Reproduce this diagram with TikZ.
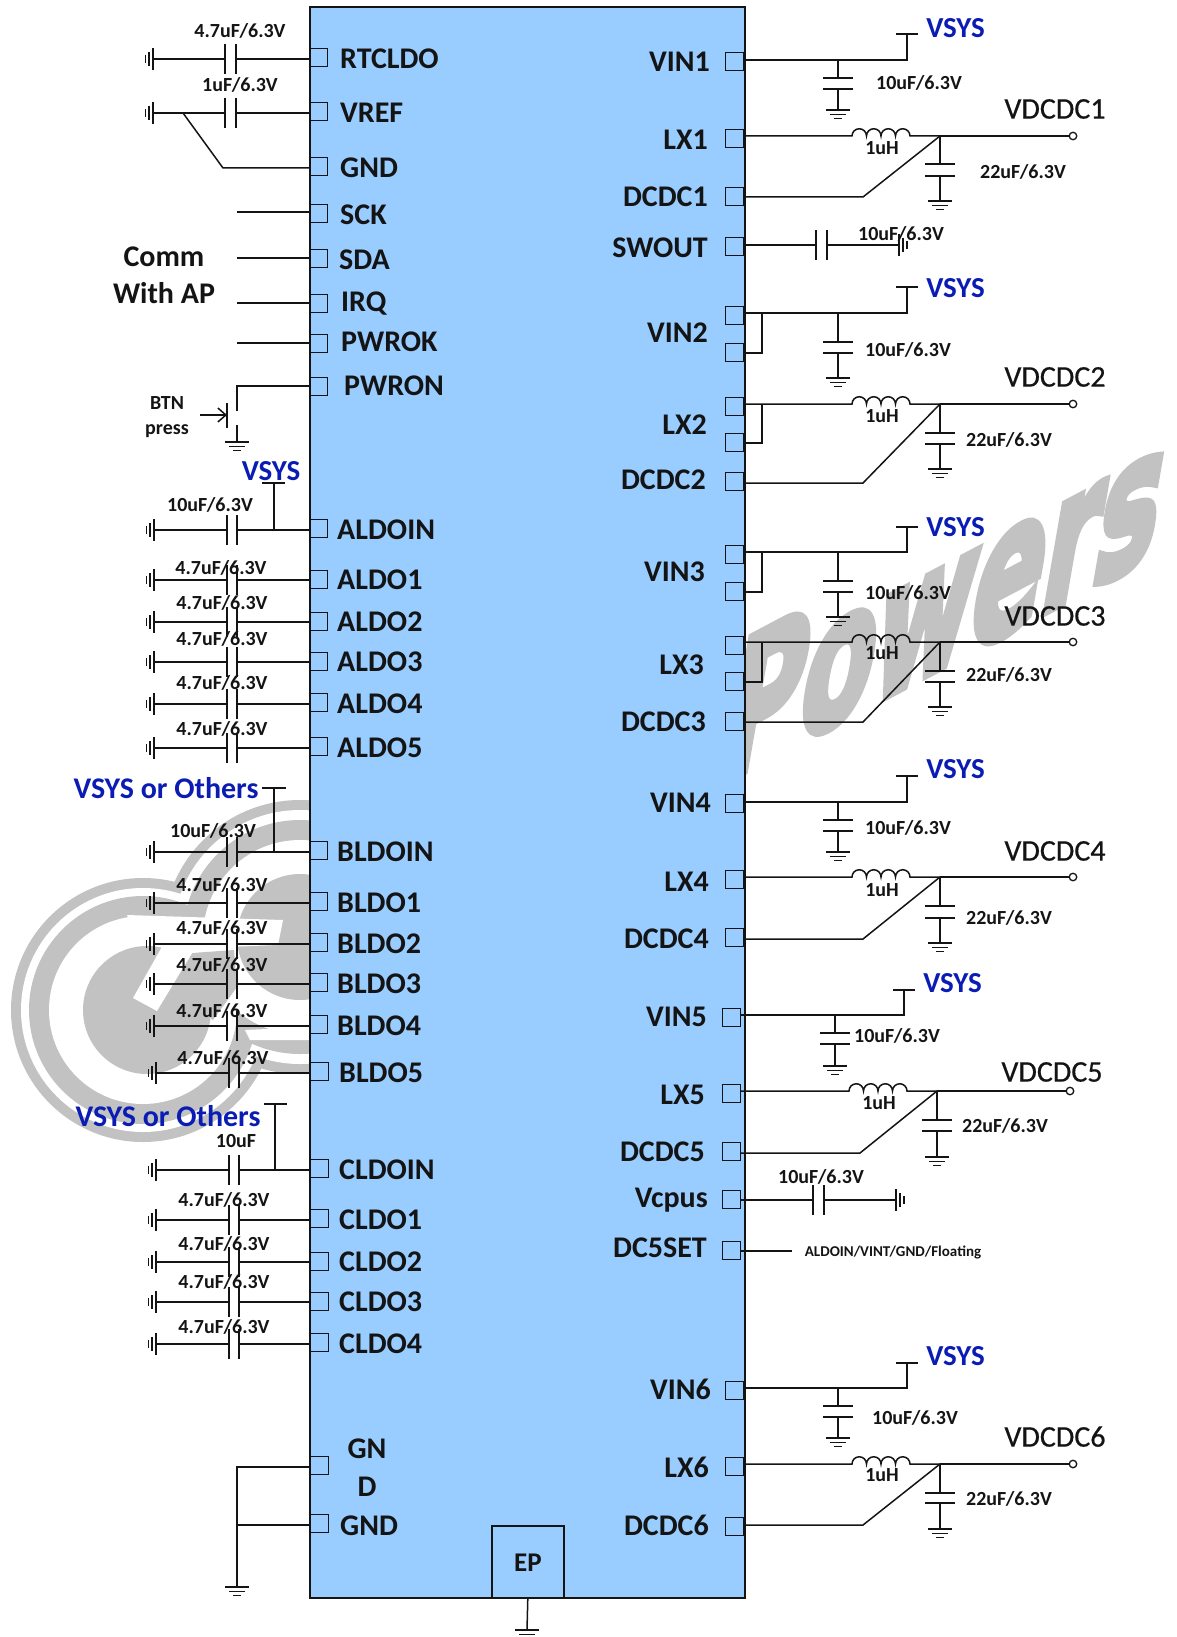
\documentclass[tikz,border=0pt]{standalone}
\usepackage{fontspec}
\usetikzlibrary{arrows.meta}
\setmainfont{Carlito}
\newfontfamily\wmfont{DejaVu Sans}[BoldFeatures={FakeBold=5}]
\newfontfamily\outfont{Carlito}[FakeBold=0.5]
\definecolor{chipblue}{HTML}{99CCFF}
\definecolor{ink}{HTML}{141414}
\definecolor{vblue}{HTML}{0A1CB4}
\definecolor{wmgray}{HTML}{C2C2C2}
\tikzset{
  wire/.style={draw=ink,line width=1.5pt,line join=miter},
  pinbox/.style={draw=ink,line width=1.6pt,minimum size=18pt,inner sep=0pt,fill=none},
  term/.style={circle,draw=ink,fill=white,line width=1.3pt,minimum size=7.5pt,inner sep=0pt},
  pinlab/.style={font=\bfseries\fontsize{30}{30}\selectfont,text=ink,inner sep=0pt,text height=19.2pt,text depth=0pt},
  vlab/.style={font=\bfseries\fontsize{20}{20}\selectfont,text=ink,inner sep=0pt,text height=12.9pt,text depth=0pt},
  outlab/.style={font=\outfont\fontsize{30}{30}\selectfont,text=ink,inner sep=0pt,text height=19.2pt,text depth=0pt},
  vsyslab/.style={font=\bfseries\fontsize{29}{29}\selectfont,text=vblue,inner sep=0pt,text height=18.6pt,text depth=0pt},
}
% state
\def\bx{309}\def\plA{227}\def\plB{237}\def\gx{154}\def\s{0}
% ground symbols
\newcommand\gndD[2]{\draw[wire] ({#1-12},#2) -- ({#1+12},#2) ({#1-8},{#2+4.3}) -- ({#1+8},{#2+4.3}) ({#1-4},{#2+8.3}) -- ({#1+4},{#2+8.3});}
\newcommand\gndL[2]{\draw[wire] (#1,{#2-11}) -- (#1,{#2+11}) ({#1-4},{#2-7}) -- ({#1-4},{#2+7}) ({#1-7.7},{#2-4}) -- ({#1-7.7},{#2+4});}
\newcommand\gndR[2]{\draw[wire] (#1,{#2-11}) -- (#1,{#2+11}) ({#1+4},{#2-7}) -- ({#1+4},{#2+7}) ({#1+8},{#2-4}) -- ({#1+8},{#2+4});}
% left row with capacitor to ground
\newcommand\lcap[9]{%
  \node[pinbox] (#1) at ({\bx+9.5},{#2+9.5}) {};
  \coordinate (#1-w) at (309,#3);
  \coordinate (#1-a) at (\plA,#3);
  \coordinate (#1-b) at (\plB,#3);
  \coordinate (#1-g) at (\gx,#3);
  \draw[wire] (#1-g) -- (#1-a) (#1-b) -- (#1-w);
  \draw[wire] (\plA,{#3-15}) -- (\plA,{#3+15}) (\plB,{#3-15}) -- (\plB,{#3+15});
  \gndL{\gx}{#3}
  \node[pinlab,anchor=west] (#1-l) at (#5,#6) {#4};
  \node[vlab] (#1-v) at (#8,#9) {#7};
}
% left row: plain signal
\newcommand\lsig[6]{%
  \node[pinbox] (#1) at ({\bx+9.5},{#2+9.5}) {};
  \coordinate (#1-w) at (309,#3);
  \node[pinlab,anchor=west] (#1-l) at (#5,#6) {#4};
}
% right pin
\newcommand\rpin[7]{%
  \node[pinbox] (#1) at ({#2+9.5},{#3+9.5}) {};
  \coordinate (#1-w) at ({#2+19},#4);
  \node[pinlab,anchor=east] (#1-l) at (#6,#7) {#5};
}
% vertical capacitor to ground: x, ytop of stem, p1, p2, gnd
\newcommand\vcapg[5]{%
  \draw[wire] (#1,#2) -- (#1,#3) (#1,#4) -- (#1,#5);
  \draw[wire] ({#1-15},#3) -- ({#1+15},#3) ({#1-15},#4) -- ({#1+15},#4);
  \gndD{#1}{#5}
}
% input branch: pin, y, ytop, p1, p2, gnd, vsysY, valx, valy
\newcommand\inbranch[9]{%
  \coordinate (#1-t) at ({907+\s},#2);
  \coordinate (#1-u) at ({907+\s},#3);
  \draw[wire] (#1-w) -- (#1-t) -- (#1-u);
  \draw[wire] ({896+\s},#3) -- ({918+\s},#3);
  \pgfmathsetmacro\cxx{838+\s}
  \vcapg{\cxx}{#2}{#4}{#5}{#6}
  \node[vsyslab] (#1-vs) at ({955.5+\s},#7) {VSYS};
  \node[vlab] (#1-val) at (#8,#9) {10uF/6.3V};
}
% buck: LX pin, DCDC pin, y, yd, label y
\newcommand\buck[5]{%
  \coordinate (#1-i) at ({852+\s},#3);
  \coordinate (#1-n) at ({940+\s},#3);
  \coordinate (#2-k) at ({863+\s},#4);
  \draw[wire] (#1-w) -- (#1-i) arc[start angle=180,end angle=0,radius=7.25pt]
     arc[start angle=180,end angle=0,radius=7.25pt]
     arc[start angle=180,end angle=0,radius=7.25pt]
     arc[start angle=180,end angle=0,radius=7.25pt] -- (#1-n);
  \draw[wire] (#2-w) -- (#2-k) -- (#1-n);
  \node[vlab] (#1-uh) at ({882+\s},#5) {1uH};
}
% output: LX pin, y, p1, p2, gnd, valx, valy, label, laby
\newcommand\outcap[9]{%
  \node[term] (#1-o) at ({1073+\s},#2) {};
  \draw[wire] (#1-n) -- (#1-o);
  \pgfmathsetmacro\cxx{940+\s}
  \vcapg{\cxx}{#2}{#3}{#4}{#5}
  \node[vlab] (#1-c) at (#6,#7) {22uF/6.3V};
  \node[outlab] (#1-ol) at ({1055+\s},#9) {#8};
}
\begin{document}
\begin{tikzpicture}[x=1pt,y=-1pt]
\useasboundingbox (0,0) rectangle (1176,1637);
\clip (0,0) rectangle (1176,1637);
% ---------- watermark: logo
\begin{scope}
  \def\Ax{143}\def\Ay{1010}\def\Bx{300}\def\By{937}
  \fill[wmgray] (\Ax,\Ay) circle[radius=132pt] (\Bx,\By) circle[radius=137pt];
  \fill[white] (\Ax,\Ay) circle[radius=122pt] (\Bx,\By) circle[radius=127pt];
  \fill[wmgray] (\Ax,\Ay) circle[radius=114pt] (\Bx,\By) circle[radius=117pt];
  \fill[white] (\Ax,\Ay) circle[radius=94pt] (\Bx,\By) circle[radius=97pt];
  \fill[wmgray] (147,1010) circle[radius=64pt] (\Bx,\By) circle[radius=63pt];
  \fill[wmgray] (192,953) -- (234,950) -- (237,987) -- (213,1020) -- (173,988) -- cycle;
  \fill[white] (127,915) -- (283,920) -- (278,945) -- (227,947) -- (192,953) -- (157,1011) -- (133,998) -- (163,945) -- (138,944) -- cycle;
  % bottom gap of the ring
  \fill[white] (245,1030) -- (250,1040) -- (309,1040) -- (309,1027) -- cycle;
\end{scope}
% ---------- watermark: word
\begin{scope}[cm={.53,.28,.17,.98,(716,786)}]
  \node[transform shape,anchor=base west,inner sep=0pt,text=wmgray,font=\wmfont\bfseries\fontsize{200}{200}\selectfont] (wm) at (0,0) {Powers};
\end{scope}
% ---------- chip
\node[draw=ink,fill=chipblue,line width=1.7pt,minimum width=435pt,minimum height=1591pt,inner sep=0pt,anchor=north west] (chip) at (309,6) {};
\node[draw=ink,line width=1.6pt,minimum width=72pt,minimum height=72pt,inner sep=0pt,anchor=north west] (ep) at (491,1525) {};
\node[pinlab,font=\bfseries\fontsize{27}{27}\selectfont] (eplab) at (528,1562) {EP};
\coordinate (epg) at (527,1630);
\draw[wire] (ep.south) -- (epg);
\gndD{527}{1630}
% ---------- left top
\def\plA{225}\def\plB{236}\def\gx{153}
\lcap{RTCLDO}{48}{59}{RTCLDO}{340}{59}{4.7uF/6.3V}{240}{31}
\lcap{VREF}{102}{113}{VREF}{340}{113}{1uF/6.3V}{240}{85}
\lsig{GNDa}{157}{168}{GND}{340}{168}
\coordinate (vb) at (183,113);
\coordinate (vc) at (223,168);
\draw[wire] (vb) -- (vc) -- (GNDa-w);
\foreach \n/\t/\y/\lx/\ly in {SCK/204/212/340/215,SDA/249/258/339/260,IRQ/294/303/341/302,PWROK/334/343/341/342}{
  \lsig{\n}{\t}{\y}{\n}{\lx}{\ly}
  \coordinate (\n-e) at (237,\y);
  \draw[wire] (\n-e) -- (\n-w);
}
\node[pinlab] (comm) at (164,257) {Comm};
\node[pinlab] (withap) at (164,294) {With AP};
\lsig{PWRON}{377}{386}{PWRON}{344}{386}
\coordinate (pb1) at (237,386);
\coordinate (pb2) at (237,411);
\coordinate (pb3) at (237,425);
\coordinate (pb4) at (237,442);
\coordinate (pbp) at (227,415);
\coordinate (pba) at (200,415);
\draw[wire] (PWRON-w) -- (pb1) -- (pb2);
\draw[wire] (pb3) -- (pb4);
\gndD{237}{442}
\draw[wire] (227,403) -- (227,428);
\draw[wire,-{Straight Barb[length=8pt,width=14pt]}] (pba) -- (pbp);
\node[vlab] (btn) at (167,403) {BTN};
\node[vlab] (press) at (167,428) {press};
% ---------- ALDO
\def\plA{227}\def\plB{237}\def\gx{154}
\lcap{ALDOIN}{519}{530}{ALDOIN}{337}{530}{10uF/6.3V}{210}{505}
\lcap{ALDOa}{570}{580}{ALDO1}{337}{580}{4.7uF/6.3V}{221}{568}
\lcap{ALDOb}{612}{622}{ALDO2}{337}{622}{4.7uF/6.3V}{222}{603}
\lcap{ALDOc}{652}{662}{ALDO3}{337}{662}{4.7uF/6.3V}{222}{639}
\lcap{ALDOd}{693}{704}{ALDO4}{337}{704}{4.7uF/6.3V}{222}{683}
\lcap{ALDOe}{737}{748}{ALDO5}{337}{748}{4.7uF/6.3V}{222}{729}
\node[vsyslab] (vsA) at (271,471) {VSYS};
\coordinate (vsAt) at (274,483);
\coordinate (vsAb) at (274,530);
\draw[wire] (vsAt) -- (vsAb);
\draw[wire] (262,483) -- (285,483);
% ---------- BLDO
\lcap{BLDOIN}{841}{852}{BLDOIN}{337}{852}{10uF/6.3V}{213}{831}
\lcap{BLDOa}{892}{903}{BLDO1}{337}{903}{4.7uF/6.3V}{222}{885}
\lcap{BLDOb}{933}{944}{BLDO2}{337}{944}{4.7uF/6.3V}{222}{928}
\lcap{BLDOc}{973}{984}{BLDO3}{337}{984}{4.7uF/6.3V}{222}{965}
\lcap{BLDOd}{1015}{1026}{BLDO4}{337}{1026}{4.7uF/6.3V}{222}{1011}
\def\plA{229}\def\plB{239}\def\gx{156}\def\bx{310}
\lcap{BLDOe}{1062}{1073}{BLDO5}{339}{1073}{4.7uF/6.3V}{223}{1058}
\node[vsyslab,font=\bfseries\fontsize{30}{30}\selectfont] (vsB) at (166,789) {VSYS or Others};
\coordinate (vsBt) at (274,788);
\coordinate (vsBb) at (274,852);
\draw[wire] (vsBt) -- (vsBb);
\draw[wire] (262,788) -- (286,788);
% ---------- CLDO
\lcap{CLDOIN}{1159}{1170}{CLDOIN}{339}{1170}{10uF}{236}{1141}
\lcap{CLDOa}{1209}{1220}{CLDO1}{339}{1220}{4.7uF/6.3V}{224}{1200}
\lcap{CLDOb}{1252}{1262}{CLDO2}{339}{1262}{4.7uF/6.3V}{224}{1244}
\lcap{CLDOc}{1292}{1302}{CLDO3}{339}{1302}{4.7uF/6.3V}{224}{1282}
\lcap{CLDOd}{1333}{1344}{CLDO4}{339}{1344}{4.7uF/6.3V}{224}{1327}
\node[vsyslab,font=\bfseries\fontsize{30}{30}\selectfont] (vsC) at (168,1117) {VSYS or Others};
\coordinate (vsCt) at (275,1104);
\coordinate (vsCb) at (275,1170);
\draw[wire] (vsCt) -- (vsCb);
\draw[wire] (264,1104) -- (287,1104);
% ---------- bottom GND
\lsig{GNDb}{1456}{1467}{}{340}{1449}
\lsig{GNDc}{1514}{1525}{GND}{340}{1526}
\node[pinlab] (gnT) at (367,1449) {GN};
\node[pinlab] (gnD) at (367,1487) {D};
\coordinate (gc) at (237,1467);
\coordinate (gd) at (237,1525);
\coordinate (ge) at (237,1587);
\draw[wire] (GNDb-w) -- (gc) -- (ge);
\draw[wire] (GNDc-w) -- (gd);
\gndD{237}{1587}
% ---------- right side
\rpin{VIN1}{725}{52}{60}{VIN1}{710}{62}
\inbranch{VIN1}{60}{34}{78}{89}{110}{28}{919}{83}
\rpin{LX1}{725}{129}{136}{LX1}{708}{140}
\rpin{DCDC1}{725}{187}{197}{DCDC1}{708}{197}
\buck{LX1}{DCDC1}{136}{197}{148}
\outcap{LX1}{136}{164}{176}{201}{1023}{172}{VDCDC1}{109}
\rpin{SWOUT}{725}{237}{245}{SWOUT}{708}{248}
\coordinate (swa) at (816,245);
\coordinate (swb) at (827,245);
\coordinate (swg) at (899,245);
\draw[wire] (SWOUT-w) -- (swa) (swb) -- (swg);
\draw[wire] (816,230) -- (816,260) (827,230) -- (827,260);
\gndR{899}{245}
\node[vlab] (swv) at (901,234) {10uF/6.3V};
% VIN2 / LX2
\rpin{VIN2}{725}{306}{313}{VIN2}{708}{333}
\rpin{VIN2b}{725}{343}{353}{}{708}{333}
\coordinate (vin2j) at (762,353);
\coordinate (vin2k) at (762,313);
\draw[wire] (VIN2b-w) -- (vin2j) -- (vin2k);
\inbranch{VIN2}{313}{287}{342}{353}{378}{288}{908}{350}
\rpin{LX2}{725}{397}{404}{LX2}{707}{425}
\rpin{LX2b}{725}{433}{443}{}{707}{425}
\coordinate (lx2j) at (762,443);
\coordinate (lx2k) at (762,404);
\draw[wire] (LX2b-w) -- (lx2j) -- (lx2k);
\rpin{DCDC2}{725}{472}{483}{DCDC2}{706}{480}
\buck{LX2}{DCDC2}{404}{483}{416}
\outcap{LX2}{404}{433}{444}{469}{1009}{440}{VDCDC2}{377}
% VIN3 / LX3
\rpin{VIN3}{725}{545}{552}{VIN3}{705}{572}
\rpin{VIN3b}{725}{582}{592}{}{705}{572}
\coordinate (vin3j) at (762,592);
\coordinate (vin3k) at (762,552);
\draw[wire] (VIN3b-w) -- (vin3j) -- (vin3k);
\inbranch{VIN3}{552}{527}{581}{592}{617}{527}{908}{593}
\rpin{LX3}{725}{636}{642}{LX3}{704}{665}
\rpin{LX3b}{725}{672}{682}{}{704}{665}
\coordinate (lx3j) at (762,682);
\coordinate (lx3k) at (762,642);
\draw[wire] (LX3b-w) -- (lx3j) -- (lx3k);
\rpin{DCDC3}{725}{712}{722}{DCDC3}{706}{722}
\buck{LX3}{DCDC3}{642}{722}{653}
\outcap{LX3}{642}{671}{682}{707}{1009}{675}{VDCDC3}{616}
% VIN4 / LX4
\rpin{VIN4}{725}{794}{802}{VIN4}{711}{803}
\inbranch{VIN4}{802}{776}{820}{831}{852}{769}{908}{828}
\rpin{LX4}{725}{870}{877}{LX4}{709}{882}
\rpin{DCDC4}{725}{928}{939}{DCDC4}{709}{939}
\buck{LX4}{DCDC4}{877}{939}{890}
\outcap{LX4}{877}{906}{918}{943}{1009}{918}{VDCDC4}{851}
% VIN5 / LX5
\def\s{-3}
\rpin{VIN5}{722}{1008}{1015}{VIN5}{707}{1017}
\inbranch{VIN5}{1015}{990}{1033}{1044}{1066}{983}{897}{1036}
\rpin{LX5}{722}{1084}{1091}{LX5}{705}{1095}
\rpin{DCDC5}{722}{1142}{1153}{DCDC5}{705}{1152}
\buck{LX5}{DCDC5}{1091}{1153}{1103}
\outcap{LX5}{1091}{1120}{1131}{1157}{1005}{1126}{VDCDC5}{1072}
\rpin{Vcpus}{722}{1190}{1200}{Vcpus}{708}{1198}
\coordinate (vca) at (813,1200);
\coordinate (vcb) at (824,1200);
\coordinate (vcg) at (896,1200);
\draw[wire] (Vcpus-w) -- (vca) (vcb) -- (vcg);
\draw[wire] (813,1185) -- (813,1215) (824,1185) -- (824,1215);
\gndR{896}{1200}
\node[vlab] (vcv) at (821,1177) {10uF/6.3V};
\rpin{DCSET}{722}{1241}{1251}{DC5SET}{707}{1248}
\coordinate (dce) at (792,1251);
\draw[wire] (DCSET-w) -- (dce);
\node[vlab,font=\bfseries\fontsize{15}{15}\selectfont,text height=9.7pt] (dcv) at (893,1252) {ALDOIN/VINT/GND/Floating};
% VIN6 / LX6
\def\s{0}
\rpin{VIN6}{725}{1381}{1388}{VIN6}{711}{1390}
\inbranch{VIN6}{1388}{1363}{1406}{1417}{1438}{1356}{915}{1418}
\rpin{LX6}{725}{1457}{1464}{LX6}{709}{1468}
\rpin{DCDC6}{725}{1517}{1525}{DCDC6}{709}{1526}
\buck{LX6}{DCDC6}{1464}{1525}{1475}
\outcap{LX6}{1464}{1493}{1503}{1529}{1009}{1499}{VDCDC6}{1437}
\end{tikzpicture}
\end{document}
